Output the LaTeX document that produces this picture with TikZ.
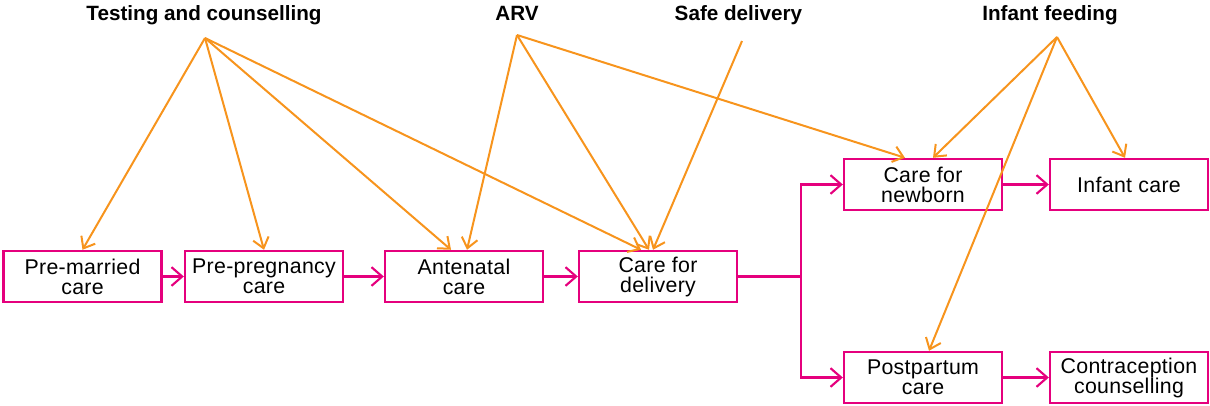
\documentclass[tikz,border=0pt]{standalone}
\usepackage{fontspec}
\setmainfont{Liberation Sans}
\newfontfamily\boxfont[LetterSpace=1.5]{Liberation Sans}
\usetikzlibrary{arrows.meta,calc}
\definecolor{pk}{HTML}{E5007D}
\definecolor{og}{HTML}{F7941D}
\begin{document}
\begin{tikzpicture}[x=0.75pt,y=-0.75pt,
 box/.style={draw=pk,line width=1.8pt,minimum width=118.5pt,minimum height=38.3pt,inner sep=0pt,align=center,font=\boxfont\fontsize{16}{15}\selectfont},
 hdr/.style={font=\bfseries\fontsize{15.5}{15.5}\selectfont,inner sep=0pt,anchor=base},
 pa/.style={draw=pk,line width=1.6pt,-{Straight Barb[length=8pt,width=14pt]}},
 oa/.style={draw=og,line width=1.5pt,-{Straight Barb[length=7.5pt,width=12pt]}}]
\useasboundingbox (0,0) rectangle (1210,405);
% boxes
\node[box] (pm) at (82.5,276.5) {Pre-married\\care};
\node[box] (pp) at (264,276.5) {Pre-pregnancy\\care};
\node[box] (an) at (464,276.5) {Antenatal\\care};
\node[box] (dl) at (658,276.5) {Care for\\delivery};
\node[box] (nb) at (923,184.5) {Care for\\newborn};
\node[box] (ic) at (1129,184.5) {Infant care};
\node[box] (pw) at (923,377.5) {Postpartum\\care};
\node[box] (cc) at (1129,377.5) {Contraception\\counselling};
% headers
\node[hdr] (tc) at (204,20) {Testing and counselling};
\node[hdr] (arv) at (517,20) {ARV};
\node[hdr] (sd) at (738.5,20) {Safe delivery};
\node[hdr] (if) at (1050,20) {Infant feeding};
% sources
\coordinate (tcs) at (205,38);
\coordinate (arvs) at (517,35);
\coordinate (sds) at (742,41);
\coordinate (ifs) at (1057,37);
% pink flow
\draw[pa] (pm.east) -- (pp.west);
\draw[pa] (pp.east) -- (an.west);
\draw[pa] (an.east) -- (dl.west);
\coordinate (sp) at (801,276.5);
\draw[draw=pk,line width=1.6pt] (dl.east) -- (sp);
\draw[pa] (sp) |- (nb.west);
\draw[pa] (sp) |- (pw.west);
\draw[pa] (nb.east) -- (ic.west);
\draw[pa] (pw.east) -- (cc.west);
% orange arrows
\draw[oa] (tcs) -- (pm.north);
\draw[oa] (tcs) -- (pp.north);
\draw[oa] (tcs) -- ($(an.north)+(-13,0)$);
\draw[oa] (tcs) -- ($(dl.north)+(-17,0)$);
\draw[oa] (arvs) -- ($(an.north)+(3,0)$);
\draw[oa] (arvs) -- ($(dl.north)+(-9,0)$);
\draw[oa] (arvs) -- ($(nb.north)+(-18,0)$);
\draw[oa] (sds) -- ($(dl.north)+(-5,0)$);
\draw[oa] (ifs) -- ($(nb.north)+(10,0)$);
\draw[oa] (ifs) -- ($(ic.north)+(-4,0)$);
\draw[oa] (ifs) -- ($(pw.north)+(6,0)$);
\end{tikzpicture}
\end{document}
